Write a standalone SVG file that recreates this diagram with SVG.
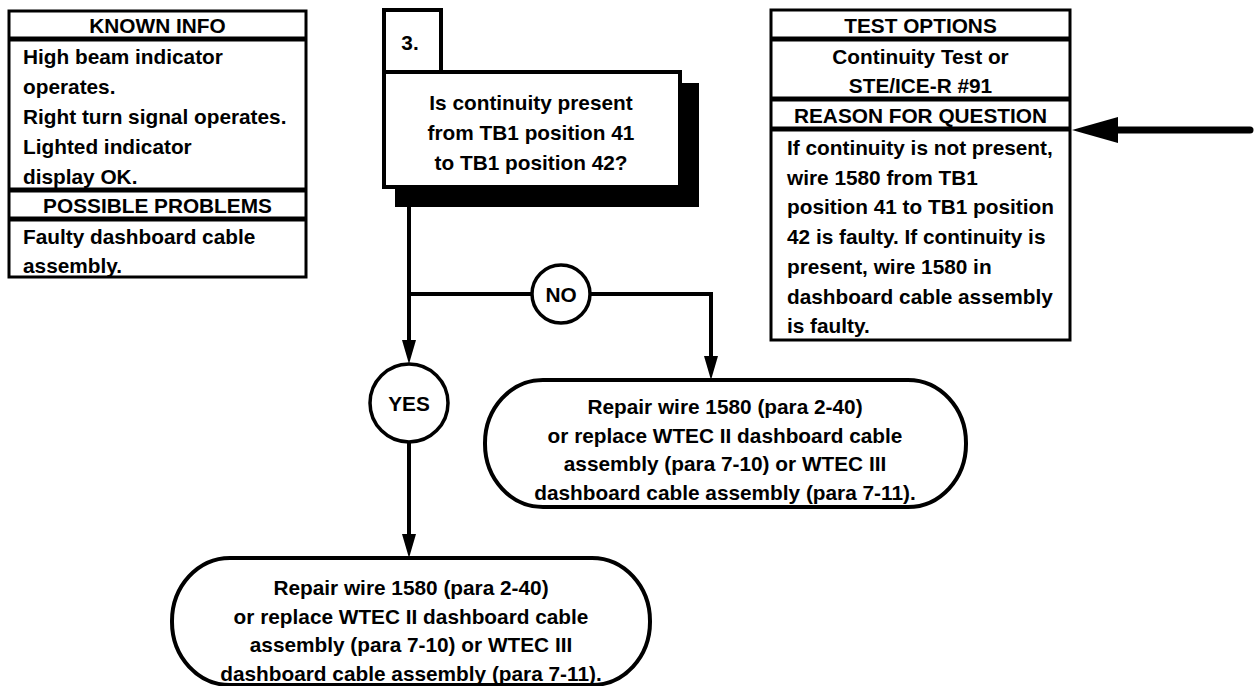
<svg xmlns="http://www.w3.org/2000/svg" width="1255" height="686" viewBox="0 0 1255 686">
<style>
text{font-family:"Liberation Sans",Arial,sans-serif;font-weight:bold;font-size:20.8px;fill:#000}
.c{text-anchor:middle}
.box{fill:#fff;stroke:#000;stroke-width:3}
.div{stroke:#000;stroke-width:5}
.step{fill:#fff;stroke:#000;stroke-width:4}
.flow{fill:none;stroke:#000;stroke-width:4}
.circ{fill:#fff;stroke:#000;stroke-width:3.5}
.ah{fill:#000}
</style>
<rect width="1255" height="686" fill="#fff"/>

<g id="known-info">
<rect class="box" x="9" y="11" width="297" height="266"/>
<line class="div" x1="9" y1="39" x2="306" y2="39"/>
<line class="div" x1="9" y1="190" x2="306" y2="190"/>
<line class="div" x1="9" y1="219" x2="306" y2="219"/>
<text class="c" x="157.5" y="33">KNOWN INFO</text>
<text x="23" y="64">High beam indicator</text>
<text x="23" y="94">operates.</text>
<text x="23" y="124">Right turn signal operates.</text>
<text x="23" y="154">Lighted indicator</text>
<text x="23" y="184">display OK.</text>
<text class="c" x="157.5" y="213">POSSIBLE PROBLEMS</text>
<text x="23" y="244">Faulty dashboard cable</text>
<text x="23" y="273">assembly.</text>
</g>

<g id="test-options">
<rect class="box" x="771" y="10" width="299" height="330"/>
<line class="div" x1="771" y1="39" x2="1070" y2="39"/>
<line class="div" x1="771" y1="99" x2="1070" y2="99"/>
<line class="div" x1="771" y1="129" x2="1070" y2="129"/>
<text class="c" x="920.5" y="33">TEST OPTIONS</text>
<text class="c" x="920.5" y="64">Continuity Test or</text>
<text class="c" x="920.5" y="93">STE/ICE-R #91</text>
<text class="c" x="920.5" y="123">REASON FOR QUESTION</text>
<text x="787" y="155">If continuity is not present,</text>
<text x="787" y="185">wire 1580 from TB1</text>
<text x="787" y="214">position 41 to TB1 position</text>
<text x="787" y="244">42 is faulty. If continuity is</text>
<text x="787" y="274">present, wire 1580 in</text>
<text x="787" y="304">dashboard cable assembly</text>
<text x="787" y="333">is faulty.</text>
</g>

<g id="step3">
<rect x="395" y="83" width="304" height="124" fill="#000"/>
<rect class="step" x="384" y="10" width="57" height="62"/>
<rect class="step" x="384" y="72" width="296" height="115"/>
<text class="c" x="410" y="50">3.</text>
<text class="c" x="531" y="110">Is continuity present</text>
<text class="c" x="531" y="140">from TB1 position 41</text>
<text class="c" x="531" y="170">to TB1 position 42?</text>
</g>

<g id="connectors">
<path class="flow" d="M409,207 V350"/>
<polygon class="ah" points="409,364 402,340 416,340"/>
<path class="flow" d="M409,294 H533 M589,294 H711 V366"/>
<polygon class="ah" points="711,380 704,356 718,356"/>
<path class="flow" d="M409,442 V544"/>
<polygon class="ah" points="409,558 402,534 416,534"/>
<line x1="1110" y1="130" x2="1250" y2="130" stroke="#000" stroke-width="7" stroke-linecap="round"/>
<polygon class="ah" points="1072,130 1118,117 1118,143"/>
</g>

<g id="no">
<circle class="circ" cx="561" cy="294" r="29"/>
<text class="c" x="561" y="301.5">NO</text>
</g>

<g id="yes">
<circle class="circ" cx="409" cy="403" r="39"/>
<text class="c" x="409" y="410.5">YES</text>
</g>

<g id="repair-no">
<rect class="step" x="485" y="380" width="481" height="127" rx="58" ry="63"/>
<text class="c" x="725" y="414">Repair wire 1580 (para 2-40)</text>
<text class="c" x="725" y="442.5">or replace WTEC II dashboard cable</text>
<text class="c" x="725" y="471">assembly (para 7-10) or WTEC III</text>
<text class="c" x="725" y="499.5">dashboard cable assembly (para 7-11).</text>
</g>

<g id="repair-yes">
<rect class="step" x="172" y="558" width="478" height="127" rx="58" ry="63"/>
<text class="c" x="411" y="595">Repair wire 1580 (para 2-40)</text>
<text class="c" x="411" y="623.5">or replace WTEC II dashboard cable</text>
<text class="c" x="411" y="652">assembly (para 7-10) or WTEC III</text>
<text class="c" x="411" y="680.5">dashboard cable assembly (para 7-11).</text>
</g>
</svg>
